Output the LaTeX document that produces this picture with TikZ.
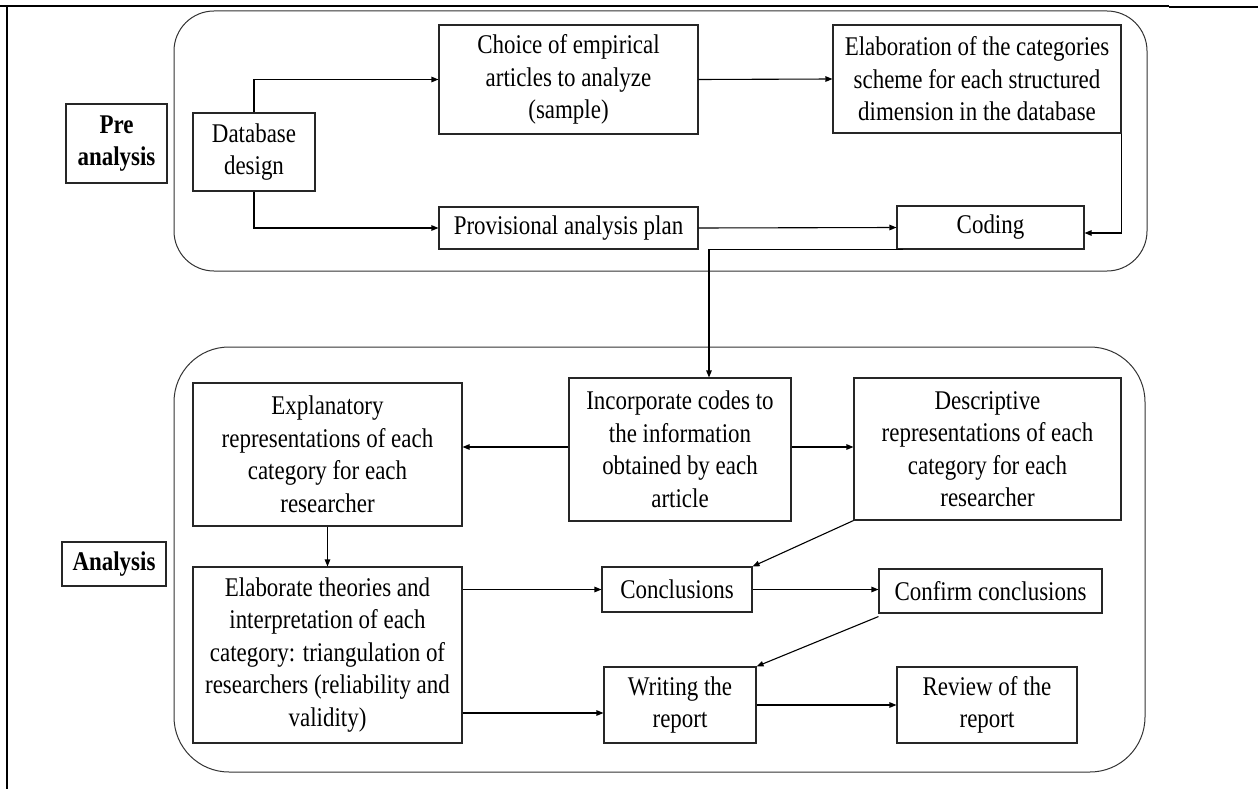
\documentclass[tikz,border=0pt]{standalone}
\usepackage{fontspec}
\setmainfont[FakeStretch=0.85]{Liberation Serif}
\usetikzlibrary{arrows.meta}
\begin{document}
\begin{tikzpicture}[x=1pt,y=-1pt,
  box/.style={draw=black!85, line width=1.1pt, inner sep=0pt, align=center,
    font=\fontsize{27}{32.5}\selectfont},
  lbl/.style={box, font=\fontsize{27}{32.5}\selectfont\bfseries},
  conn/.style={line width=1.1pt, -{Triangle[length=7pt,width=5.5pt]}},
  group/.style={draw=black!80, line width=1pt}]
\useasboundingbox (0,0) rectangle (1258,789);
% page/table frame
\draw[line width=2pt] (0,6.5) -- (41,6.5);
\draw[line width=1.1pt] (41,6) -- (1169,6);
\draw[line width=2.5pt] (1169,7) -- (1258,7);
\draw[line width=2pt] (7,5.5) -- (7,789);
% group outlines
\draw[group, rounded corners=40pt] (174,11) rectangle (1147,271);
\draw[group, rounded corners=55pt] (174,347) rectangle (1145,772);
% labels
\node[lbl, minimum width=101pt, minimum height=79pt] (pre) at (116.5,143.5) {Pre\\analysis};
\node[lbl, minimum width=104pt, minimum height=44pt] (ana) at (114,564) {Analysis};
% top boxes
\node[box, minimum width=122pt, minimum height=78pt] (db) at (254,152) {Database\\design};
\node[box, minimum width=259pt, minimum height=109pt] (choice) at (568.5,79.5) {Choice of empirical\\articles to analyze\\(sample)};
\node[box, minimum width=288pt, minimum height=108pt] (elab) at (977,79) {Elaboration of the categories\\scheme for each structured\\dimension in the database};
\node[box, minimum width=259pt, minimum height=42pt] (prov) at (568.5,228) {Provisional analysis plan};
\node[box, minimum width=187pt, minimum height=43pt] (coding) at (990.5,227.5) {Coding};
% lower boxes
\node[box, minimum width=269pt, minimum height=143pt] (expl) at (327.5,454.5) {Explanatory\\representations of each\\category for each\\researcher};
\node[box, minimum width=222pt, minimum height=143pt] (incorp) at (680,449.5) {Incorporate codes to\\the information\\obtained by each\\article};
\node[box, minimum width=267pt, minimum height=142pt] (desc) at (987.5,449) {Descriptive\\representations of each\\category for each\\researcher};
\node[box, minimum width=269pt, minimum height=176pt] (theo) at (327.5,655) {Elaborate theories and\\interpretation of each\\category: triangulation of\\researchers (reliability and\\validity)};
\node[box, minimum width=150pt, minimum height=45pt] (concl) at (677,589.5) {Conclusions};
\node[box, minimum width=223pt, minimum height=44pt] (confirm) at (990.5,591) {Confirm conclusions};
\node[box, minimum width=152pt, minimum height=76pt] (writing) at (680,705) {Writing the\\report};
\node[box, minimum width=180pt, minimum height=76pt] (review) at (987,705) {Review of the\\report};
% helper coordinates
\coordinate (lowy) at (0,713);
\coordinate (midy) at (0,447);
% connectors top
\draw[conn] (db.north) |- (choice.west);
\draw[conn] (db.south) |- (prov.west);
\draw[conn] (choice.east) -- (elab.west);
\draw[conn] (prov.east) -- (coding.west);
\draw[conn] (elab.south east) |- ([yshift=-5.5pt]coding.east);
\draw[conn] ([xshift=7pt]coding.south west) -| ([xshift=29pt]incorp.north);
% connectors lower
\draw[conn] (incorp.west |- midy) -- (expl.east |- midy);
\draw[conn] (incorp.east |- midy) -- (desc.west |- midy);
\draw[conn] (expl.south) -- (theo.north);
\draw[conn] (theo.east |- concl.west) -- (concl.west);
\draw[conn] (theo.east |- lowy) -- (writing.west |- lowy);
\draw[conn] (desc.south west) -- (concl.north east);
\draw[conn] (concl.east) -- (concl.east -| confirm.west);
\draw[conn] ([yshift=-3pt]confirm.south west) -- (writing.north east);
\draw[conn] (writing.east) -- (review.west);
\end{tikzpicture}
\end{document}
